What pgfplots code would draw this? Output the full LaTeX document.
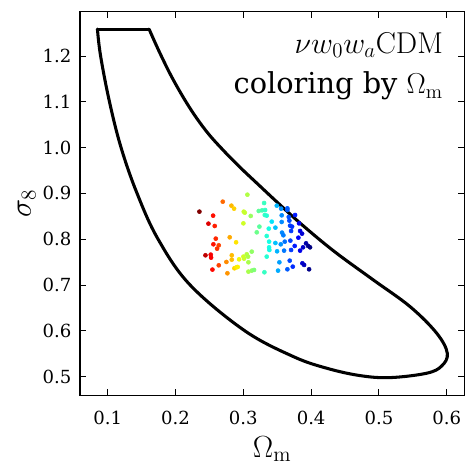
\documentclass[border=0pt]{standalone}
\usepackage{pgfplots}
\pgfplotsset{compat=1.18}
\usepackage{fontspec}
\newfontfamily\dvserif{DejaVu Serif}
\begin{document}
\begin{tikzpicture}
\begin{axis}[
  scale only axis, width=276.7pt, height=276.2pt,
  xmin=0.059, xmax=0.626, ymin=0.459, ymax=1.297,
  xtick={0.1,0.2,0.3,0.4,0.5,0.6},
  ytick={0.5,0.6,0.7,0.8,0.9,1.0,1.1,1.2},
  xtick pos=both, ytick pos=both, tick align=inside,
  xticklabel pos=bottom, yticklabel pos=left,
  minor tick num=0,
  major tick length=4.3pt,
  every major tick/.append style={line width=0.6pt, black},
  axis line style={line width=0.8pt},
  /pgf/number format/.cd, fixed, fixed zerofill, precision=1, assume math mode=true, /pgfplots/.cd,
  tick label style={font=\dvserif\fontsize{13}{15}\selectfont},
  xticklabel style={anchor=north, inner sep=0pt, yshift=-11.1pt},
  yticklabel style={anchor=east, inner sep=0pt, xshift=-6pt},
  xlabel={$\Omega_{\mathrm{m}}$},
  ylabel={$\sigma_8$},
  label style={font=\fontsize{20.74}{25}\selectfont, scale=1.06},
  xlabel style={at={(axis description cs:0.5,-0.1615)}, anchor=base, inner sep=0pt},
  ylabel style={at={(axis description cs:-0.1276,0.5)}, anchor=base, inner sep=0pt},
  colormap={jetr}{rgb(0pt)=(0.5,0,0) rgb(11pt)=(1,0,0) rgb(34pt)=(1,0.93,0) rgb(37pt)=(0.9,1,0.06) rgb(50pt)=(0.48,1,0.48) rgb(63pt)=(0.08,1,0.9) rgb(66pt)=(0,0.86,1) rgb(89pt)=(0,0,1) rgb(100pt)=(0,0,0.5)},
  clip=true,
]
\addplot[scatter, only marks, point meta=x, mark=*, mark size=1.45pt,
  scatter/use mapped color={draw=mapped color, fill=mapped color}] table {
x y
0.2352 0.8601
0.2554 0.8514
0.2485 0.8339
0.2578 0.8288
0.2593 0.8012
0.2558 0.7888
0.2637 0.7866
0.2613 0.7793
0.2441 0.7648
0.2519 0.7662
0.2524 0.7597
0.2544 0.7335
0.2637 0.7429
0.2696 0.8819
0.2824 0.8732
0.2863 0.8667
0.2799 0.8041
0.2893 0.7932
0.2750 0.7502
0.2829 0.7648
0.2829 0.7553
0.2765 0.7255
0.2868 0.7364
0.2898 0.7386
0.2917 0.7393
0.2937 0.7560
0.3001 0.7619
0.3011 0.7575
0.3060 0.8972
0.3006 0.8601
0.3021 0.8579
0.3001 0.8346
0.3109 0.8507
0.3050 0.7670
0.3070 0.7619
0.3124 0.7728
0.3075 0.7495
0.3075 0.7291
0.3124 0.7313
0.3158 0.7328
0.3237 0.8274
0.3198 0.8150
0.3227 0.8616
0.3276 0.8630
0.3306 0.8790
0.3321 0.8637
0.3316 0.8528
0.3345 0.8514
0.3345 0.8070
0.3375 0.8230
0.3380 0.7946
0.3380 0.7822
0.3384 0.7764
0.3345 0.7619
0.3311 0.7277
0.3419 0.8383
0.3473 0.8252
0.3473 0.7917
0.3498 0.7735
0.3493 0.8732
0.3557 0.8667
0.3566 0.8521
0.3566 0.8376
0.3571 0.8143
0.3591 0.8085
0.3552 0.7888
0.3532 0.7495
0.3512 0.7313
0.3611 0.7946
0.3601 0.7750
0.3650 0.8637
0.3670 0.8485
0.3679 0.8405
0.3689 0.8295
0.3704 0.8179
0.3694 0.7968
0.3704 0.7764
0.3684 0.7531
0.3650 0.7342
0.3729 0.7400
0.3758 0.7852
0.3812 0.8033
0.3837 0.8179
0.3866 0.8121
0.3837 0.7750
0.3881 0.7822
0.3871 0.7473
0.3896 0.7437
0.3925 0.7910
0.3955 0.7852
0.3984 0.7822
0.3970 0.7342
0.3719 0.8274
0.3822 0.8346
0.3763 0.8528
0.3650 0.8674
};
\addplot[black, line width=2.2pt, line cap=round, line join=round] coordinates {
(0.0847,1.259) (0.1609,1.259)
};
\addplot[black, line width=2.2pt, line cap=round, line join=round, smooth, tension=0.6] coordinates {
(0.1609,1.259)
(0.1771,1.2059)
(0.1968,1.1476)
(0.2214,1.0858)
(0.2460,1.0347)
(0.2705,0.9940)
(0.2951,0.9570)
(0.3198,0.9225)
(0.3541,0.8750)
(0.3885,0.8290)
(0.4352,0.7720)
(0.4917,0.7110)
(0.5460,0.6526)
(0.5853,0.5945)
(0.6009,0.5509)
(0.5926,0.5230)
(0.5705,0.5072)
(0.5164,0.4976)
(0.4721,0.5020)
(0.4230,0.5181)
(0.3738,0.5435)
(0.3020,0.6000)
(0.2214,0.7000)
(0.1742,0.8000)
(0.1432,0.9000)
(0.1196,1.0000)
(0.1025,1.1000)
(0.0894,1.2000)
(0.0847,1.259)
};
\node[anchor=base east, inner sep=0pt, font=\fontsize{20.74}{25}\selectfont, scale=1.046] at (rel axis cs:0.945,0.8916) {$\nu w_0 w_a\mathrm{CDM}$};
\node[anchor=base east, inner sep=0pt, font=\dvserif\fontsize{20.74}{25}\selectfont] at (rel axis cs:0.945,0.7855) {coloring by $\Omega_{\mathrm{m}}$};
\end{axis}
\pgfresetboundingbox
\path[use as bounding box] ([shift={(-57.6pt,-56.7pt)}]current axis.south west) rectangle ([shift={(7.7pt,8.4pt)}]current axis.north east);
\end{tikzpicture}
\end{document}
